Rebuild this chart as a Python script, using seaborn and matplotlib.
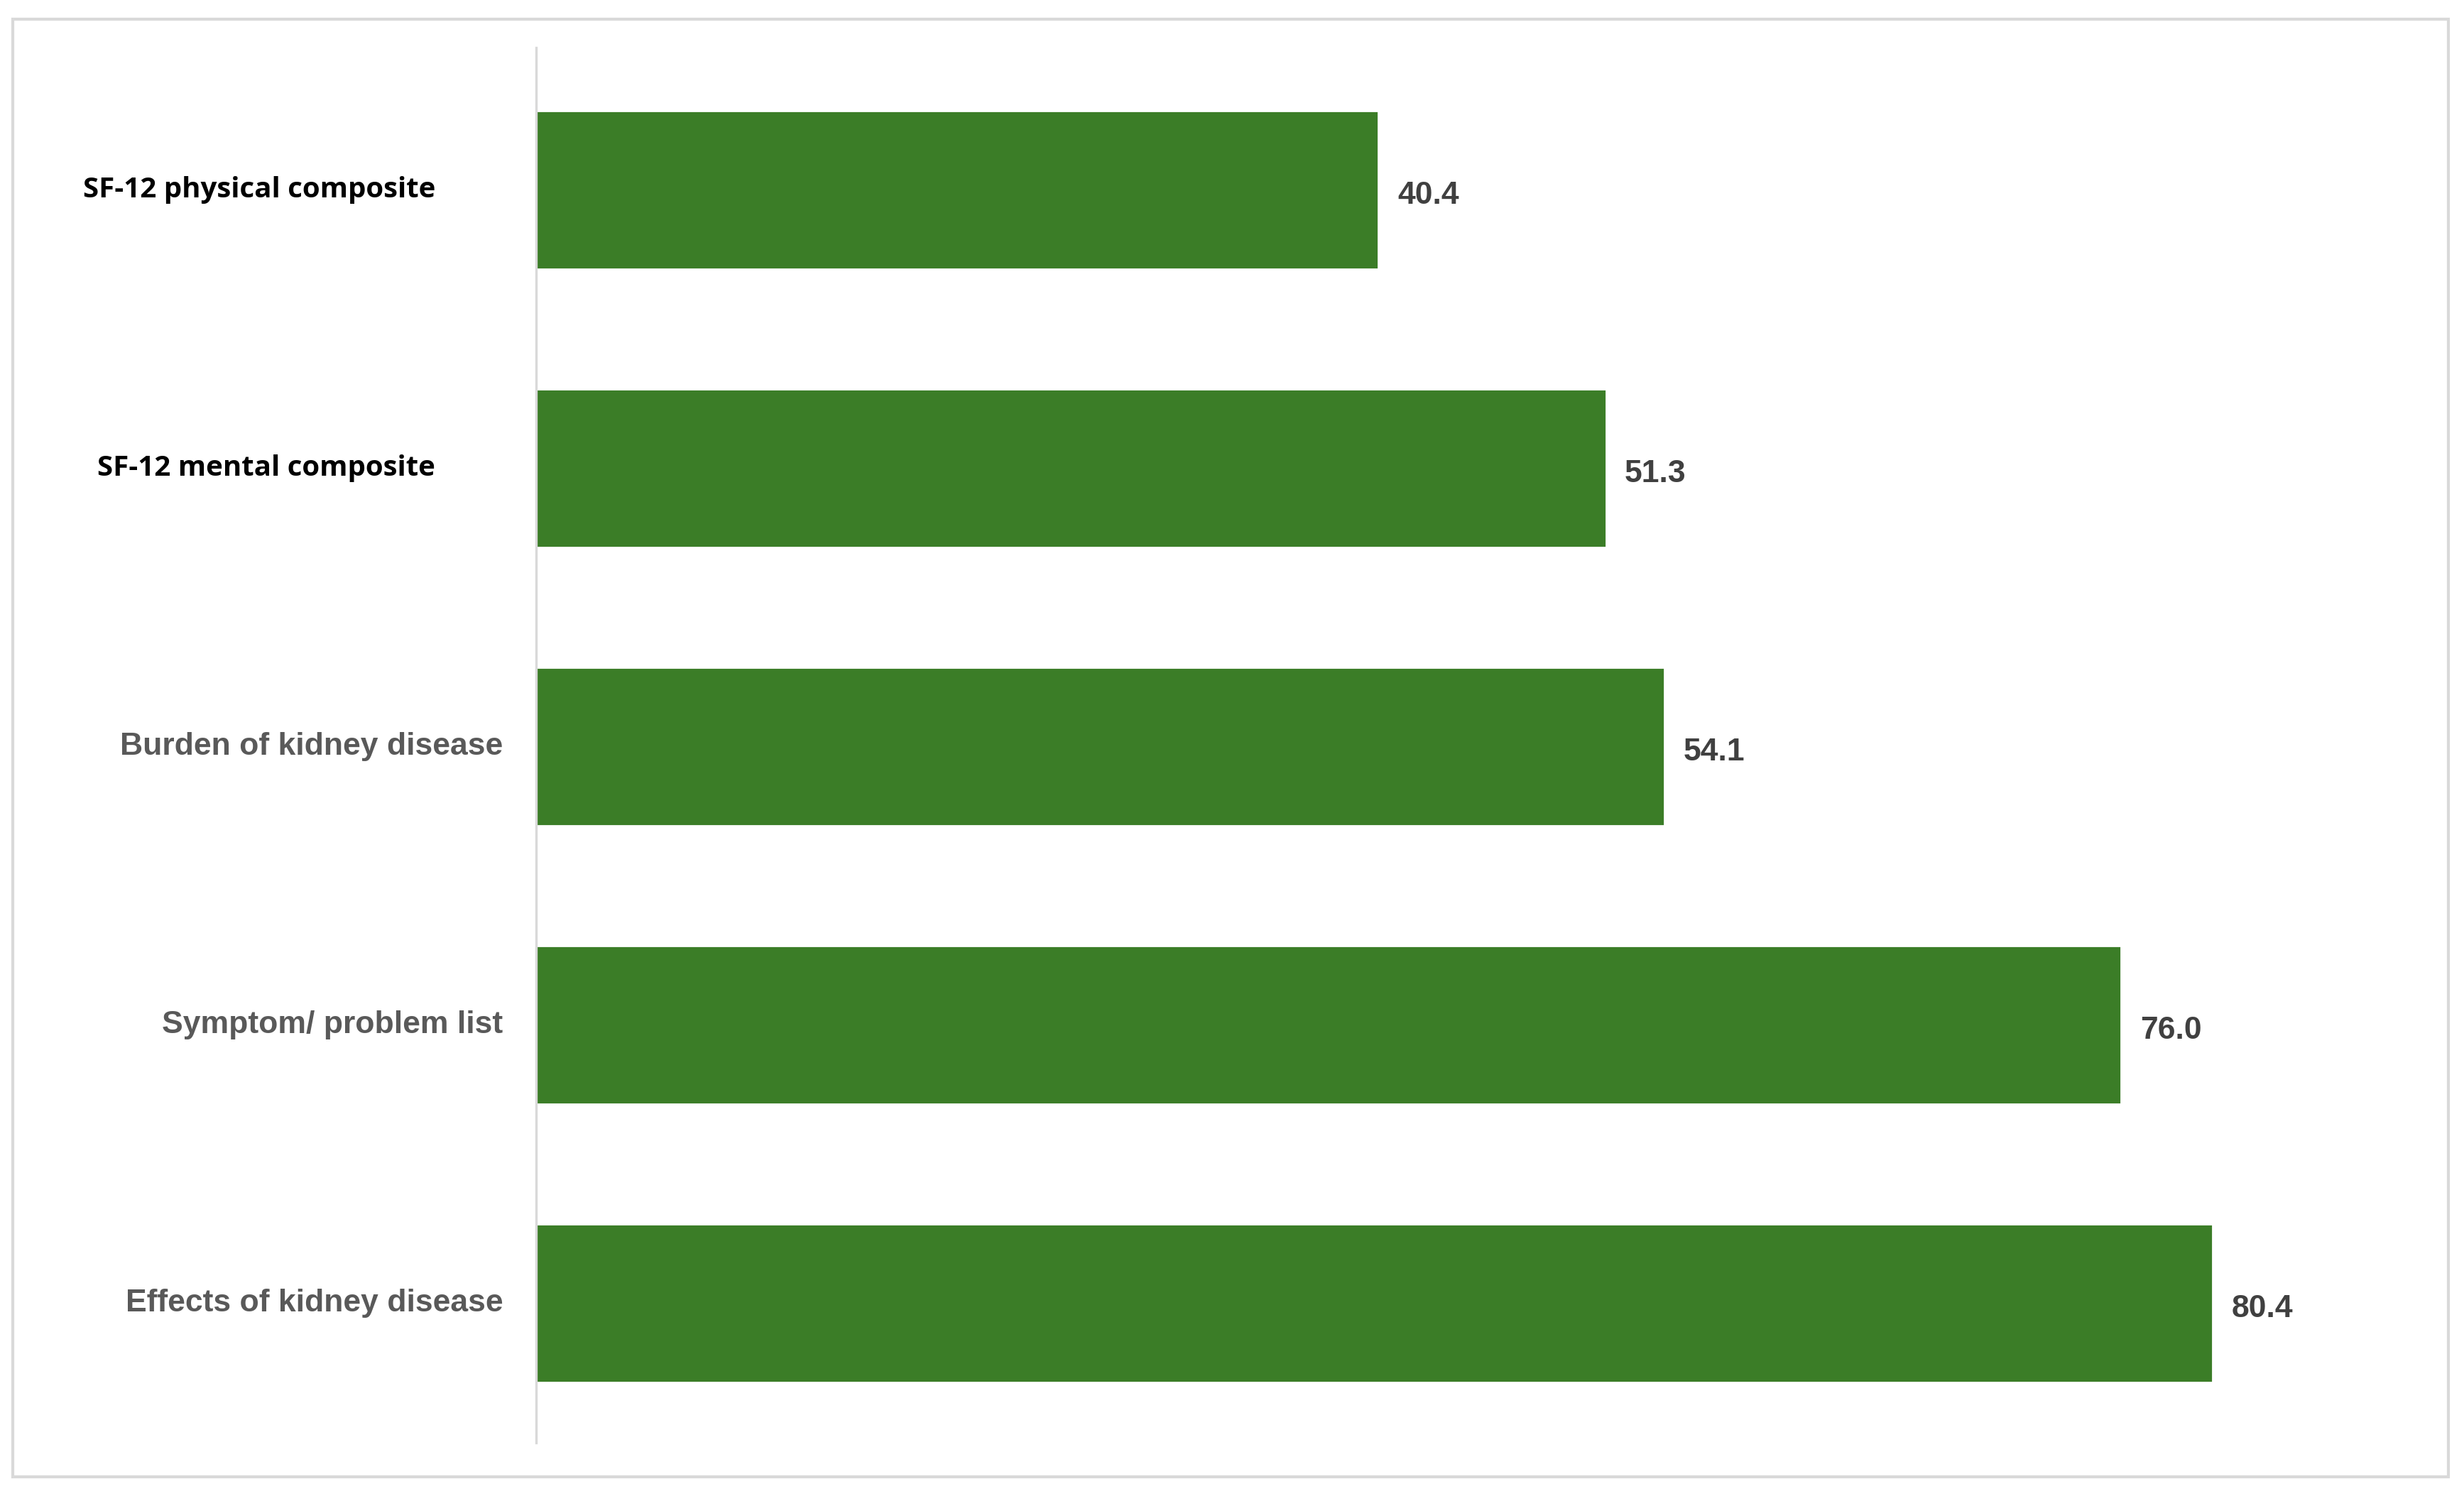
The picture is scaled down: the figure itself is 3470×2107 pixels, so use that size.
import matplotlib
matplotlib.use("Agg")
import matplotlib.pyplot as plt
import matplotlib.transforms as mtransforms
from matplotlib.patches import Rectangle
import pandas as pd
import seaborn as sns

categories = ["SF-12 physical composite", "SF-12 mental composite",
              "Burden of kidney disease", "Symptom/ problem list",
              "Effects of kidney disease"]
scores = [40.4, 51.3, 54.1, 76.0, 80.4]
value_labels = ["40.4", "51.3", "54.1", "76.0", "80.4"]

df = pd.DataFrame({"category": categories, "score": scores})

sns.set_style("white")
fig = plt.figure(figsize=(17.35, 10.535), dpi=200)
ax = fig.add_axes([0.2175, 0.0357, 0.7585, 0.9323])

sns.barplot(data=df, x="score", y="category", orient="h", color="#3b7d27",
            saturation=1, width=0.57, ax=ax)

ax.set_xlim(0, 89.6)
ax.set_ylim(4.5, -0.51)
ax.set_xlabel("")
ax.set_ylabel("")
ax.set_xticks([])
ax.set_yticks([])
for side in ["top", "right", "bottom"]:
    ax.spines[side].set_visible(False)
ax.spines["left"].set_color("#d9d9d9")
ax.spines["left"].set_linewidth(1.2)

trans = mtransforms.blended_transform_factory(ax.transAxes, ax.transData)
for i, cat in enumerate(categories):
    if cat.startswith("SF-12"):
        ax.text(-0.0538, i, cat, transform=trans, ha="right", va="center",
                fontsize=14.5, fontweight="bold", color="black",
                family="Open Sans")
    else:
        ax.text(-0.0177, i, cat, transform=trans, ha="right", va="center",
                fontsize=16, fontweight="bold", color="#595959",
                family="Liberation Sans")

for i, (v, lab) in enumerate(zip(scores, value_labels)):
    ax.text(v + 0.9, i + 0.02, lab, ha="left", va="center", fontsize=16,
            fontweight="bold", color="#404040", family="Liberation Sans")

fig.patches.append(Rectangle((8 / 1568, 12 / 952), 1550 / 1568, 928 / 952,
                             transform=fig.transFigure, fill=False,
                             edgecolor="#d9d9d9", linewidth=1.5))

fig.savefig("out.png", dpi=200, facecolor="white")
